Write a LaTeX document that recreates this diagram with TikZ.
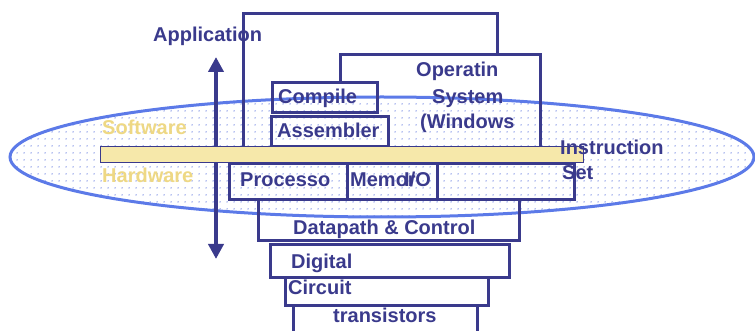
\documentclass[tikz,border=0pt]{standalone}
\usepackage{fontspec}
\setmainfont{Liberation Sans}
\usetikzlibrary{arrows.meta,patterns}

\definecolor{navy}{RGB}{58,58,140}
\definecolor{ovalblue}{RGB}{92,122,232}
\definecolor{dotblue}{RGB}{110,130,225}
\definecolor{sand}{RGB}{238,216,132}
\definecolor{barfill}{RGB}{246,232,170}

% sparse dot raster for the oval
\pgfdeclarepatternformonly{sparse dots}{\pgfqpoint{0pt}{0pt}}{\pgfqpoint{7pt}{7pt}}{\pgfqpoint{7pt}{7pt}}{%
  \pgfpathcircle{\pgfqpoint{3.5pt}{3.5pt}}{0.8pt}%
  \pgfusepath{fill}}

\begin{document}
\begin{tikzpicture}[x=1pt,y=-1pt,
    every node/.style={inner sep=0pt,font=\fontsize{20}{22}\selectfont\bfseries,text=navy},
    box/.style={draw=navy,line width=3pt},
    layer/.style={text=sand}]
    \useasboundingbox (0,0) rectangle (755,331);
    \clip (0,0) rectangle (755,331);

    % oval
    \path[pattern=sparse dots,pattern color=dotblue] (382,157) ellipse[x radius=372pt,y radius=60pt];
    \draw[ovalblue,line width=3pt] (382,157) ellipse[x radius=372pt,y radius=60pt];

    % software / hardware arrow
    \coordinate (swtop) at (216,57);
    \coordinate (hwbot) at (216,259);
    \draw[navy,line width=4pt,{Triangle[width=15pt,length=15pt]}-{Triangle[width=15pt,length=15pt]}] (hwbot) -- (swtop);

    % software side
    \draw[box] (243,147) -- (243,14) -- (497,14) -- (497,55);
    \draw[box] (340,83) -- (340,55) -- (540,55) -- (540,147);
    \draw[box] (272,83) rectangle (377,113);
    \draw[box] (271,117) rectangle (388,147);

    % instruction set bar
    \draw[navy,line width=0.8pt,fill=barfill] (100,146) rectangle (583,162);

    % hardware side
    \draw[box] (229,164) rectangle (347,200);
    \draw[box] (347,164) rectangle (437,200);
    \draw[box] (437,164) rectangle (574,200);
    \draw[box] (258,200) rectangle (519,241);
    \draw[box] (270,245) rectangle (509,277);
    \draw[box] (285,277) rectangle (488,305);
    \draw[box] (293,305) rectangle (477,345);

    % labels
    \node[anchor=base west] (app) at (153,42) {Application};
    \node[anchor=base west] (comp) at (278,104) {Compile};
    \node[anchor=base west] (asm) at (277,138) {Assembler};
    \node[anchor=base west] (os1) at (416,77) {Operatin};
    \node[anchor=base west] (os2) at (432,104) {System};
    \node[anchor=base west] (os3) at (420,129) {(Windows};
    \node[layer,anchor=base west] (sw) at (102,135) {Software};
    \node[layer,anchor=base west] (hw) at (102,183) {Hardware};
    \node[anchor=base west] (isa1) at (560,155) {Instruction};
    \node[anchor=base west] (isa2) at (562,180) {Set};
    \node[anchor=base west] (cpu) at (240,187) {Processo};
    \node[anchor=base west] (mem) at (350,187) {Memor};
    \node[anchor=base west] (io) at (404,187) {I/O};
    \node[anchor=base west] (dp) at (293,234) {Datapath \& Control};
    \node[anchor=base west] (dig) at (291,269) {Digital};
    \node[anchor=base west] (circ) at (288,294) {Circuit};
    \node[anchor=base west] (tr) at (333,322) {transistors};
\end{tikzpicture}
\end{document}
